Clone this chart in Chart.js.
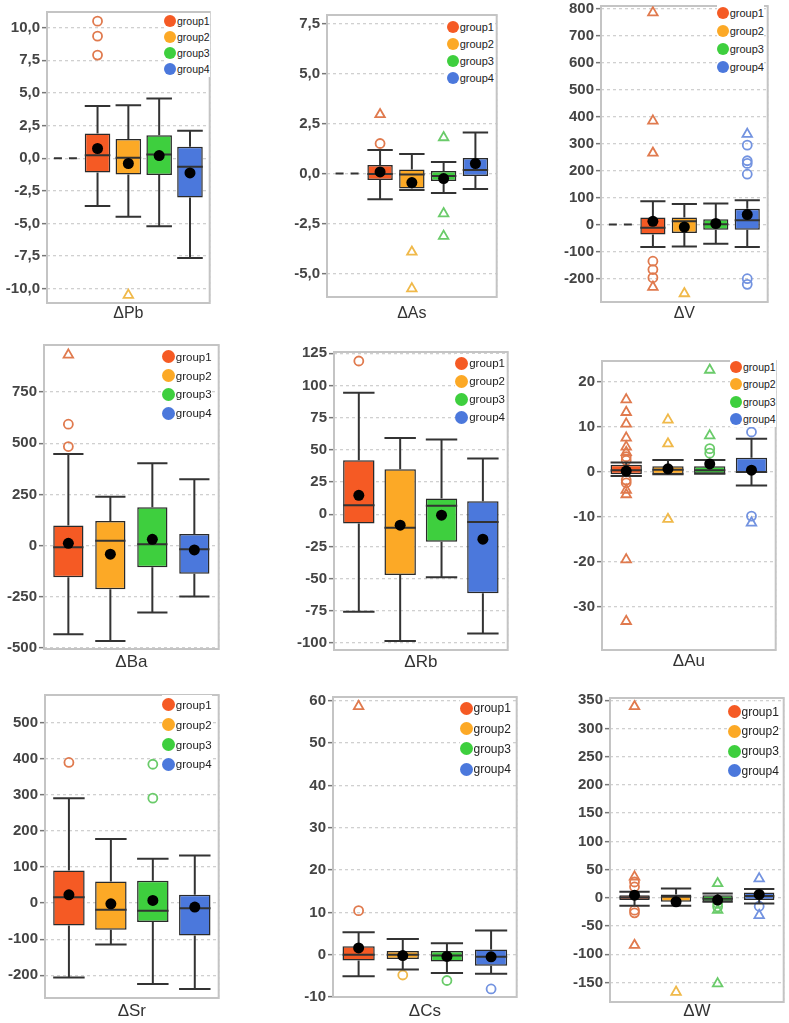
<!DOCTYPE html>
<html>
<head>
<meta charset="utf-8">
<script src="https://cdn.jsdelivr.net/npm/chart.js@4.4.1/dist/chart.umd.min.js"></script>
<style>
  html, body { margin: 0; padding: 0; background: #fff; overflow: hidden; }
  #page { position: relative; width: 789px; height: 1023px; }
  .panel { position: absolute; }
  .legend { position: absolute; background: #fff; font-family: Arial, "Liberation Sans", sans-serif; color: #222; }
  .legend .row { display: flex; align-items: center; white-space: nowrap; }
  .legend .dot { display: inline-block; border-radius: 50%; margin-right: 1px; }
</style>
</head>
<body>
<div id="page"></div>
<script>
const groups = ["group1", "group2", "group3", "group4"];
const groupColors = ["#f55a24", "#fca926", "#3ecf3e", "#4b78dc"];
const outlierColors = ["#e07a4e", "#f0b94a", "#6acb6a", "#7393e0"];
const refValue = 0;

// ΔPb
const pbTicks = [-10, -7.5, -5, -2.5, 0, 2.5, 5, 7.5, 10];
const pbLow = [-3.66, -4.5, -5.22, -7.65];
const pbQ1 = [-1.1, -1.25, -1.3, -3.02];
const pbMedian = [0.23, 0.03, 0.28, -0.66];
const pbQ3 = [1.89, 1.46, 1.76, 0.87];
const pbHigh = [4.0, 4.05, 4.58, 2.1];
const pbMean = [0.74, -0.41, 0.2, -1.13];
const pbCircles = [[10.5, 9.35, 7.9], [], [], []];
const pbTriangles = [[], [-10.5], [], []];

// ΔAs
const asTicks = [-5, -2.5, 0, 2.5, 5, 7.5];
const asLow = [-1.28, -0.83, -0.97, -0.78];
const asQ1 = [-0.33, -0.75, -0.38, -0.13];
const asMedian = [-0.03, -0.05, -0.12, 0.17];
const asQ3 = [0.42, 0.2, 0.12, 0.78];
const asHigh = [1.17, 0.97, 0.58, 2.05];
const asMean = [0.08, -0.45, -0.25, 0.5];
const asCircles = [[1.5], [], [], []];
const asTriangles = [[2.95], [-3.92, -5.75], [1.8, -2.0, -3.13], []];

// ΔV
const vTicks = [-200, -100, 0, 100, 200, 300, 400, 500, 600, 700, 800];
const vLow = [-83, -81, -71, -83];
const vQ1 = [-37, -31, -19, -19];
const vMedian = [-12, 12, 1, 16];
const vQ3 = [26, 26, 20, 59];
const vHigh = [87, 76, 78, 90];
const vMean = [12, -9, 4, 37];
const vCircles = [[-136, -167, -197], [], [], [295, 237, 227, 187, -201, -222]];
const vTriangles = [[787, 385, 266, -232], [-256], [], [336]];

// ΔBa
const baTicks = [-500, -250, 0, 250, 500, 750];
const baLow = [-433, -466, -327, -249];
const baQ1 = [-155, -213, -106, -137];
const baMedian = [-8, 24, 7, -18];
const baQ3 = [98, 120, 187, 57];
const baHigh = [448, 239, 402, 324];
const baMean = [11, -42, 31, -21];
const baCircles = [[484, 593], [], [], []];
const baTriangles = [[932], [], [], []];

// ΔRb
const rbTicks = [-100, -75, -50, -25, 0, 25, 50, 75, 100, 125];
const rbLow = [-75.8, -98.5, -49, -92.6];
const rbQ1 = [-7.2, -47.3, -21.5, -61.5];
const rbMedian = [7, -10.6, 6.5, -6];
const rbQ3 = [42, 35, 12.2, 10];
const rbHigh = [94.4, 59.2, 58, 43.2];
const rbMean = [14.7, -8.5, -0.8, -19.4];
const rbCircles = [[119], [], [], []];
const rbTriangles = [[], [], [], []];

// ΔAu
const auTicks = [-30, -20, -10, 0, 10, 20];
const auLow = [-0.9, -0.5, -0.4, -3.0];
const auQ1 = [-0.5, -0.5, -0.4, -0.2];
const auMedian = [0.4, 0.5, 0.4, 0];
const auQ3 = [1.6, 1.3, 1.3, 3.2];
const auHigh = [2.1, 2.7, 2.7, 7.4];
const auMean = [0.2, 0.7, 1.8, 0.4];
const auCircles = [[3.4, 2.6, -1.8, -2.4], [], [5.2, 4.2], [8.9, -9.8]];
const auTriangles = [[16.1, 13.3, 10.7, 7.6, 5.6, 4.4, -4.0, -5.0, -19.5, -33.2], [11.6, 6.3, -10.5], [22.7, 8.1], [-11.3]];

// ΔSr
const srTicks = [-200, -100, 0, 100, 200, 300, 400, 500];
const srLow = [-206, -115, -224, -238];
const srQ1 = [-62, -74, -52.6, -89.6];
const srMedian = [16.6, -18.5, -21, -14];
const srQ3 = [90.5, 60, 62, 23];
const srHigh = [291, 178, 123, 132];
const srMean = [23, -2, 7.4, -11];
const srCircles = [[390], [], [385, 291], []];
const srTriangles = [[], [], [], []];

// ΔCs
const csTicks = [-10, 0, 10, 20, 30, 40, 50, 60];
const csLow = [-5.1, -3.5, -4.3, -4.5];
const csQ1 = [-1.4, -1.0, -1.6, -2.6];
const csMedian = [0, 0, -0.2, -0.5];
const csQ3 = [2.0, 0.9, 0.9, 1.2];
const csHigh = [5.3, 3.7, 2.7, 5.7];
const csMean = [1.6, -0.2, -0.4, -0.5];
const csCircles = [[10.4], [-4.8], [-6.1], [-8.1]];
const csTriangles = [[58.7], [], [], []];

// ΔW
const wTicks = [-150, -100, -50, 0, 50, 100, 150, 200, 250, 300, 350];
const wLow = [-14, -14, -7, -10];
const wQ1 = [-4, -7, -7, -4];
const wMedian = [0.6, 1.8, -1.8, 3];
const wQ3 = [4.7, 6, 4.7, 9.5];
const wHigh = [10.7, 16.6, 7.7, 15.4];
const wMean = [4.7, -7, -4, 6];
const wCircles = [[28, 19.5, -22, -26.6], [], [-10, -16], [-15]];
const wTriangles = [[37, 339, -84], [-167], [25.4, -22, -152], [34, -31]];

const panels = [
  { title: "ΔPb", ticks: pbTicks, low: pbLow, q1: pbQ1, median: pbMedian, q3: pbQ3, high: pbHigh, mean: pbMean, circles: pbCircles, triangles: pbTriangles, ref: true, dec: 1 },
  { title: "ΔAs", ticks: asTicks, low: asLow, q1: asQ1, median: asMedian, q3: asQ3, high: asHigh, mean: asMean, circles: asCircles, triangles: asTriangles, ref: true, dec: 1 },
  { title: "ΔV", ticks: vTicks, low: vLow, q1: vQ1, median: vMedian, q3: vQ3, high: vHigh, mean: vMean, circles: vCircles, triangles: vTriangles, ref: true, dec: 0 },
  { title: "ΔBa", ticks: baTicks, low: baLow, q1: baQ1, median: baMedian, q3: baQ3, high: baHigh, mean: baMean, circles: baCircles, triangles: baTriangles, ref: false, dec: 0 },
  { title: "ΔRb", ticks: rbTicks, low: rbLow, q1: rbQ1, median: rbMedian, q3: rbQ3, high: rbHigh, mean: rbMean, circles: rbCircles, triangles: rbTriangles, ref: false, dec: 0 },
  { title: "ΔAu", ticks: auTicks, low: auLow, q1: auQ1, median: auMedian, q3: auQ3, high: auHigh, mean: auMean, circles: auCircles, triangles: auTriangles, ref: false, dec: 0 },
  { title: "ΔSr", ticks: srTicks, low: srLow, q1: srQ1, median: srMedian, q3: srQ3, high: srHigh, mean: srMean, circles: srCircles, triangles: srTriangles, ref: false, dec: 0 },
  { title: "ΔCs", ticks: csTicks, low: csLow, q1: csQ1, median: csMedian, q3: csQ3, high: csHigh, mean: csMean, circles: csCircles, triangles: csTriangles, ref: false, dec: 0 },
  { title: "ΔW", ticks: wTicks, low: wLow, q1: wQ1, median: wMedian, q3: wQ3, high: wHigh, mean: wMean, circles: wCircles, triangles: wTriangles, ref: false, dec: 0 }
];

// plot frame (page px), axis ranges, legend [dotX, firstRowY, rowGap, fontSize]
const layout = [
  { L: 47, T: 12, R: 213, B: 303, yMin: -11.1, yMax: 11.2, xMin: -0.64, xMax: 4.64, boxW: 0.83, titleGap: 10.5, titleSize: 16, leg: [170, 20.7, 16.2, 10.5] },
  { L: 327, T: 15, R: 500, B: 297, yMin: -6.17, yMax: 7.92, xMin: -0.67, xMax: 4.67, boxW: 0.8, titleGap: 16.3, titleSize: 16, leg: [452.7, 26.7, 17.2, 11] },
  { L: 601, T: 6, R: 771, B: 302, yMin: -287.5, yMax: 811.6, xMin: -0.65, xMax: 4.65, boxW: 0.8, titleGap: 11.3, titleSize: 16, leg: [722.7, 13.3, 17.8, 11] },
  { L: 44, T: 345, R: 222, B: 649, yMin: -505, yMax: 980, xMin: 0.42, xMax: 4.58, boxW: 0.72, titleGap: 14, titleSize: 17, leg: [168.3, 356.7, 18.9, 11.5] },
  { L: 334, T: 352, R: 510, B: 650, yMin: -105.5, yMax: 126, xMin: 0.4, xMax: 4.6, boxW: 0.76, titleGap: 13, titleSize: 17, leg: [461.7, 363.3, 18, 11.5] },
  { L: 602, T: 361, R: 779, B: 650, yMin: -39.6, yMax: 24.7, xMin: 0.42, xMax: 4.58, boxW: 0.75, titleGap: 11.7, titleSize: 17, leg: [736, 367.3, 17.2, 10.5] },
  { L: 45, T: 695, R: 221, B: 998, yMin: -263, yMax: 577, xMin: 0.43, xMax: 4.57, boxW: 0.75, titleGap: 13.4, titleSize: 17, leg: [168.3, 705, 19.8, 11.5] },
  { L: 333, T: 697, R: 520, B: 997, yMin: -10, yMax: 60.9, xMin: 0.42, xMax: 4.58, boxW: 0.73, titleGap: 14.4, titleSize: 17, leg: [466, 708.3, 20.3, 12] },
  { L: 610, T: 698, R: 787, B: 1002, yMin: -184.6, yMax: 354, xMin: 0.41, xMax: 4.59, boxW: 0.73, titleGap: 10, titleSize: 17, leg: [734, 711.7, 19.7, 12] }
];

const FONT = "Arial, 'Liberation Sans', sans-serif";
const Y_AXIS_W = 44;
const PAD_TOP = 12;
const PAD_RIGHT = 4;

const framePlugin = {
  id: "frame",
  beforeDatasetsDraw(chart) {
    const { ctx, chartArea: a } = chart;
    ctx.save();
    ctx.strokeStyle = "#c4c4c4";
    ctx.lineWidth = 2;
    ctx.strokeRect(a.left, a.top, a.right - a.left, a.bottom - a.top);
    ctx.restore();
  }
};

function buildDatasets(p, lay) {
  const hw = lay.boxW / 2;
  const pos = p.median.map((_, i) => i + 1);
  const segs = [];
  const add = (x1, y1, x2, y2) => segs.push({ x: x1, y: y1 }, { x: x2, y: y2 }, { x: x2, y: null });
  pos.forEach((x, i) => {
    add(x, p.q3[i], x, p.high[i]);
    add(x, p.q1[i], x, p.low[i]);
    add(x - hw, p.high[i], x + hw, p.high[i]);
    add(x - hw, p.low[i], x + hw, p.low[i]);
    add(x - hw, p.median[i], x + hw, p.median[i]);
  });
  const outliers = (list) => list.flatMap((vals, g) => vals.map(v => ({ x: g + 1, y: v, c: outlierColors[g] })));
  const circ = outliers(p.circles);
  const tri = outliers(p.triangles);

  const ds = [
    { type: "scatter", data: pos.map((x, i) => ({ x, y: p.mean[i] })), pointRadius: 5.5, pointBackgroundColor: "#000", pointBorderWidth: 0 },
    { type: "line", data: segs, borderColor: "#333", borderWidth: 2, pointRadius: 0, spanGaps: false, fill: false, tension: 0 },
    {
      type: "bar", data: pos.map((x, i) => ({ x, y: [p.q1[i], p.q3[i]] })),
      backgroundColor: groupColors, borderColor: "#2a2a2a", borderWidth: 1.5, borderSkipped: false,
      barPercentage: lay.boxW, categoryPercentage: 1
    },
    { type: "scatter", data: circ, pointStyle: "circle", pointRadius: 4.5, pointBorderWidth: 1.8, pointBackgroundColor: "rgba(0,0,0,0)", pointBorderColor: circ.map(o => o.c) },
    { type: "scatter", data: tri, pointStyle: "triangle", pointRadius: 5.5, pointBorderWidth: 1.8, pointBackgroundColor: "rgba(0,0,0,0)", pointBorderColor: tri.map(o => o.c) }
  ];
  if (p.ref) {
    ds.push({ type: "line", data: [{ x: -hw, y: refValue }, { x: hw, y: refValue }], borderColor: "#333", borderWidth: 2, borderDash: [8, 7], pointRadius: 0 });
  }
  return ds;
}

const page = document.getElementById("page");

panels.forEach((p, k) => {
  const lay = layout[k];
  const xH = Math.round(lay.titleGap + lay.titleSize * 0.6 + 3);
  const canvas = document.createElement("canvas");
  canvas.className = "panel";
  const w = Y_AXIS_W + (lay.R - lay.L) + PAD_RIGHT;
  const h = PAD_TOP + (lay.B - lay.T) + xH;
  canvas.width = w;
  canvas.height = h;
  canvas.style.width = w + "px";
  canvas.style.height = h + "px";
  canvas.style.left = (lay.L - Y_AXIS_W) + "px";
  canvas.style.top = (lay.T - PAD_TOP) + "px";
  page.appendChild(canvas);

  const center = (lay.xMin + lay.xMax) / 2;
  new Chart(canvas.getContext("2d"), {
    type: "scatter",
    data: { datasets: buildDatasets(p, lay) },
    options: {
      responsive: false,
      animation: false,
      events: [],
      layout: { padding: { top: PAD_TOP, right: PAD_RIGHT, left: 0, bottom: 0 } },
      plugins: { legend: { display: false }, tooltip: { enabled: false } },
      scales: {
        x: {
          type: "linear", min: lay.xMin, max: lay.xMax, offset: false,
          afterBuildTicks: ax => { ax.ticks = [{ value: center }]; },
          afterFit: ax => { ax.height = xH; },
          ticks: { display: false },
          grid: { color: "#c8c8c8", lineWidth: 1.3, drawTicks: false },
          border: { display: false, dash: [2, 4] },
          title: { display: true, text: p.title, color: "#333", font: { family: FONT, size: lay.titleSize }, padding: { top: 0, bottom: 3 } }
        },
        y: {
          type: "linear", min: lay.yMin, max: lay.yMax,
          afterBuildTicks: ax => { ax.ticks = p.ticks.map(v => ({ value: v })); },
          afterFit: ax => { ax.width = Y_AXIS_W; },
          ticks: {
            color: "#444", padding: 2,
            font: { family: FONT, size: 15, weight: "bold" },
            callback: v => p.dec ? v.toFixed(p.dec).replace(".", ",") : String(v)
          },
          grid: { color: "#d0d0d0", lineWidth: 1.3, tickLength: 5, tickColor: "#777", tickWidth: 1.5, tickBorderDash: [] },
          border: { display: false, dash: [3, 3] }
        }
      }
    },
    plugins: [framePlugin]
  });

  // legend
  const [dx, dy, gap, fs] = lay.leg;
  const dot = Math.round(fs * 1.1);
  const leg = document.createElement("div");
  leg.className = "legend";
  leg.style.left = (dx - dot / 2) + "px";
  leg.style.top = (dy - gap / 2) + "px";
  leg.style.fontSize = fs + "px";
  groups.forEach((g, i) => {
    const row = document.createElement("div");
    row.className = "row";
    row.style.height = gap + "px";
    const d = document.createElement("span");
    d.className = "dot";
    d.style.width = dot + "px";
    d.style.height = dot + "px";
    d.style.background = groupColors[i];
    const t = document.createElement("span");
    t.textContent = g;
    row.appendChild(d);
    row.appendChild(t);
    leg.appendChild(row);
  });
  page.appendChild(leg);
});
</script>
</body>
</html>
